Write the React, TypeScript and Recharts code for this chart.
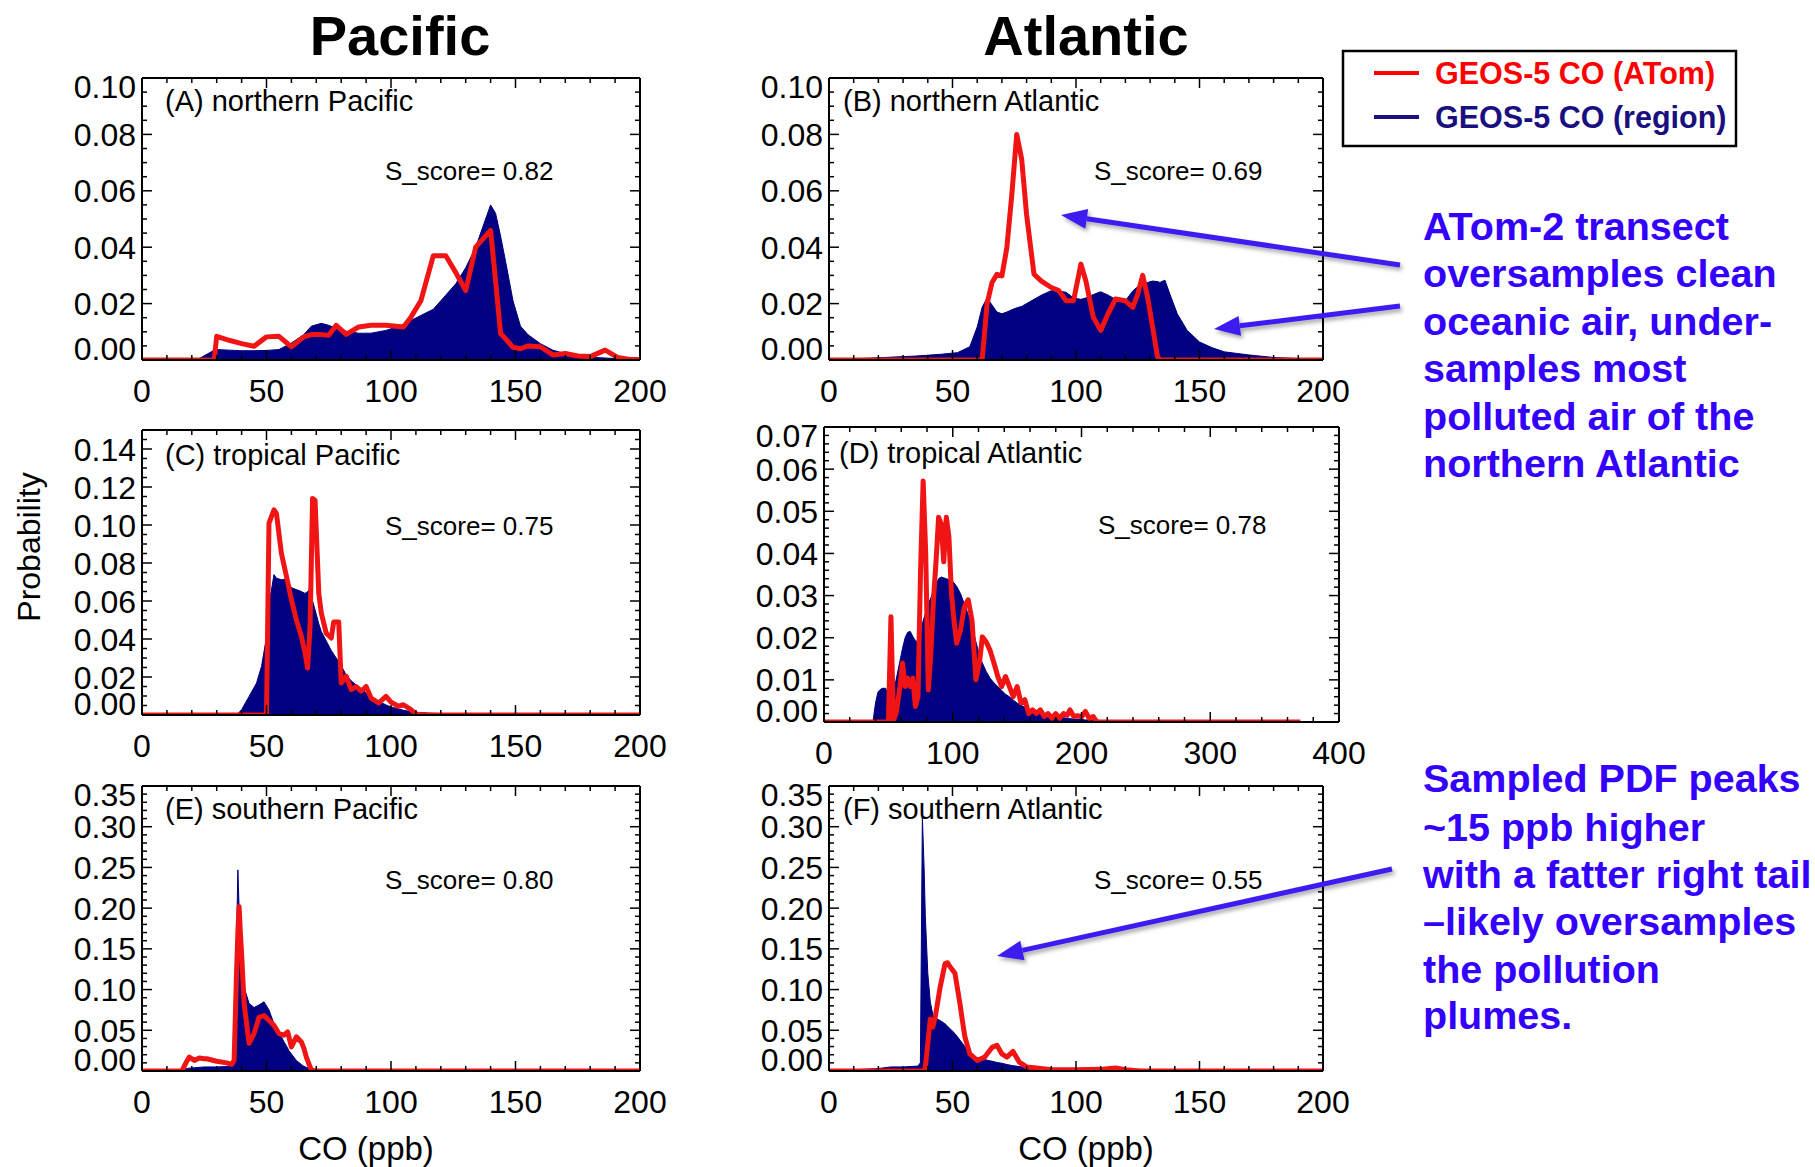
import React from 'react';
import { ComposedChart, Area, Line, XAxis, YAxis } from 'recharts';

const FONT = '"Liberation Sans", Arial, Helvetica, sans-serif';
const NAVY = '#000080';
const RED = '#f01414';
const BLUE = '#3300ff';
const ARROW = '#3c1ef2';

// tick labels
const X_TICKS_200 = [0, 50, 100, 150, 200];
const X_TICKS_400 = [0, 100, 200, 300, 400];
const Y_TICKS_010 = [0, 0.02, 0.04, 0.06, 0.08, 0.1];
const Y_TICKS_014 = [0, 0.02, 0.04, 0.06, 0.08, 0.1, 0.12, 0.14];
const Y_TICKS_007 = [0, 0.01, 0.02, 0.03, 0.04, 0.05, 0.06, 0.07];
const Y_TICKS_035 = [0, 0.05, 0.1, 0.15, 0.2, 0.25, 0.3, 0.35];

// (A) northern Pacific
const A_CO = [0, 20, 23, 28, 29, 30, 35, 40, 45, 50, 55, 60, 65, 68, 72, 75, 78, 82, 87, 92, 98, 105, 108, 112, 117, 122, 126, 130, 134, 138, 140, 142, 144, 146, 149, 152, 155, 160, 165, 170, 175, 180, 186, 191, 196, 200];
const A_REGION = [0, 0, 0.0005, 0.003, 0.0035, 0.0037, 0.0035, 0.0033, 0.0033, 0.0034, 0.0037, 0.006, 0.009, 0.012, 0.013, 0.0123, 0.0112, 0.0102, 0.0095, 0.0095, 0.0105, 0.0125, 0.014, 0.0158, 0.018, 0.023, 0.027, 0.0327, 0.04, 0.05, 0.055, 0.052, 0.044, 0.035, 0.021, 0.012, 0.009, 0.0058, 0.0035, 0.0022, 0.0016, 0.001, 0.0007, 0.0005, 0.0003, 0.0002];
const A_ATOM = [0, 0, 0, 0, 0, 0.0084, 0.007, 0.0058, 0.0049, 0.0082, 0.0084, 0.0047, 0.0082, 0.009, 0.009, 0.0088, 0.0123, 0.0091, 0.0117, 0.0123, 0.0123, 0.0117, 0.0152, 0.021, 0.037, 0.037, 0.031, 0.0246, 0.04, 0.044, 0.046, 0.028, 0.0094, 0.0075, 0.0045, 0.004, 0.005, 0.0047, 0.0018, 0.0023, 0.0014, 0.0012, 0.0035, 0.0009, 0.0002, 0.0002];

// (B) northern Atlantic
const B_CO = [0, 35, 45, 52, 57, 60, 62, 64, 66, 68, 70, 72, 74, 76, 78, 80, 83, 86, 90, 93, 96, 99, 102, 104, 107, 110, 113, 116, 120, 123, 125, 127, 129, 131, 133, 134, 136, 138, 141, 145, 150, 155, 160, 170, 180, 190, 200];
const B_REGION = [0, 0.0014, 0.002, 0.0026, 0.0047, 0.0117, 0.0187, 0.022, 0.0195, 0.017, 0.0164, 0.017, 0.0178, 0.0185, 0.019, 0.02, 0.0215, 0.023, 0.0246, 0.0245, 0.024, 0.022, 0.0215, 0.022, 0.0232, 0.0242, 0.023, 0.0215, 0.021, 0.0245, 0.026, 0.027, 0.0275, 0.028, 0.0278, 0.0275, 0.0283, 0.0234, 0.0164, 0.0105, 0.0064, 0.0044, 0.0029, 0.0018, 0.0009, 0.0005, 0.0002];
const B_ATOM = [0, 0, 0, 0, 0, 0, 0, 0.0199, 0.0275, 0.0304, 0.0298, 0.0398, 0.0585, 0.08, 0.0713, 0.0515, 0.0304, 0.028, 0.0257, 0.0246, 0.021, 0.021, 0.034, 0.028, 0.0152, 0.0105, 0.0164, 0.0216, 0.021, 0.0187, 0.0234, 0.03, 0.0222, 0.0117, 0.0012, 0, 0, 0, 0, 0, 0, 0, 0, 0, 0, 0, 0];

// (C) tropical Pacific
const C_CO = [0, 38, 40, 43, 46, 48, 50, 51, 53, 54, 56, 58, 60, 62, 64, 65.5, 66.5, 67.5, 68.5, 69.5, 71, 72, 74, 76, 77, 79, 80, 82, 84, 86, 88, 90, 92, 95, 98, 100, 103, 105, 108, 110, 113, 115, 120, 130, 140, 150, 200];
const C_REGION = [0, 0, 0.0028, 0.0098, 0.0168, 0.0256, 0.041, 0.058, 0.0739, 0.072, 0.0712, 0.0716, 0.067, 0.066, 0.065, 0.064, 0.065, 0.066, 0.06, 0.0554, 0.048, 0.044, 0.039, 0.034, 0.032, 0.028, 0.026, 0.021, 0.018, 0.0158, 0.014, 0.0116, 0.0098, 0.0072, 0.0053, 0.0042, 0.0032, 0.0025, 0.0018, 0.0014, 0.0012, 0.001, 0.0007, 0.0004, 0.0002, 0, 0];
const C_ATOM = [0, 0, 0, 0, 0, 0, 0, 0.101, 0.108, 0.106, 0.085, 0.073, 0.0607, 0.05, 0.0414, 0.0326, 0.0247, 0.0467, 0.114, 0.113, 0.064, 0.0537, 0.043, 0.0405, 0.049, 0.049, 0.0168, 0.0204, 0.0133, 0.015, 0.0125, 0.015, 0.0089, 0.0063, 0.0098, 0.0068, 0.0046, 0.0054, 0.0028, 0.0005, 0, 0, 0, 0, 0, 0, 0];

// (D) tropical Atlantic
const D_CO = [0, 38, 40, 42, 45, 48, 50, 52, 53, 54, 56, 59, 61, 63, 65, 67, 69, 71, 73, 75, 77, 79, 81, 83, 85, 87, 89, 91, 93, 95, 97, 99, 101, 103, 106, 109, 112, 115, 118, 121, 123, 126, 129, 132, 135, 138, 141, 144, 147, 150, 153, 156, 159, 162, 165, 168, 171, 174, 177, 180, 183, 186, 189, 191, 194, 197, 200, 203, 206, 209, 212, 220, 240, 260, 280, 370];
const D_REGION = [0, 0, 0.0045, 0.0072, 0.008, 0.008, 0.0053, 0.005, 0.006, 0.007, 0.01, 0.0145, 0.0175, 0.02, 0.0213, 0.0215, 0.0203, 0.0193, 0.019, 0.021, 0.024, 0.026, 0.028, 0.0295, 0.031, 0.0325, 0.034, 0.0344, 0.0342, 0.034, 0.0338, 0.0335, 0.033, 0.0322, 0.0305, 0.028, 0.0255, 0.0226, 0.019, 0.0155, 0.014, 0.012, 0.0104, 0.0093, 0.0084, 0.0075, 0.0066, 0.006, 0.0052, 0.0045, 0.004, 0.0035, 0.003, 0.0027, 0.0023, 0.002, 0.0017, 0.0015, 0.0013, 0.0012, 0.0011, 0.001, 0.0009, 0.0008, 0.0007, 0.0007, 0.0006, 0.0005, 0.0005, 0.0004, 0.0004, 0.0003, 0.0002, 0.0001, 0, 0];
const D_ATOM = [0, 0, 0, 0, 0, 0, 0, 0.025, 0.012, 0.0005, 0.002, 0.0084, 0.014, 0.0084, 0.0104, 0.0084, 0.0104, 0.0037, 0.006, 0.036, 0.0572, 0.04, 0.0076, 0.0163, 0.029, 0.038, 0.0486, 0.047, 0.038, 0.0486, 0.044, 0.0305, 0.024, 0.0187, 0.0218, 0.0273, 0.029, 0.024, 0.01, 0.0147, 0.0202, 0.019, 0.017, 0.014, 0.0108, 0.0084, 0.0108, 0.0084, 0.006, 0.0084, 0.0045, 0.0053, 0.002, 0.0029, 0.002, 0.0029, 0.0013, 0.002, 0.0009, 0.002, 0.0009, 0.002, 0.0016, 0.0029, 0.0013, 0.0015, 0.0012, 0.0025, 0.0009, 0.0013, 0, 0, 0, 0, 0, 0];

// (E) southern Pacific
const E_CO = [0, 15, 16, 18, 19, 21, 23, 25, 26, 30, 34, 35, 36, 37, 38, 38.5, 39, 39.5, 40, 41, 43, 45, 47, 49, 51, 53, 55, 56, 57, 58.5, 59, 60, 62, 64, 65, 66, 68, 70, 72, 80, 90, 200];
const E_REGION = [0, 0, 0.001, 0.003, 0.0035, 0.004, 0.0045, 0.005, 0.005, 0.005, 0.0055, 0.0057, 0.006, 0.007, 0.165, 0.247, 0.2, 0.165, 0.14, 0.103, 0.083, 0.078, 0.081, 0.085, 0.075, 0.058, 0.047, 0.042, 0.036, 0.028, 0.025, 0.021, 0.013, 0.008, 0.0057, 0.0045, 0.0025, 0.0015, 0.0008, 0.0002, 0, 0];
const E_ATOM = [0, 0, 0, 0.012, 0.017, 0.013, 0.016, 0.015, 0.015, 0.012, 0.01, 0.009, 0.008, 0.013, 0.124, 0.17, 0.202, 0.17, 0.144, 0.083, 0.034, 0.046, 0.066, 0.068, 0.062, 0.056, 0.046, 0.045, 0.044, 0.048, 0.042, 0.0295, 0.042, 0.0357, 0.028, 0.017, 0.001, 0, 0, 0, 0, 0];

// (F) southern Atlantic
const F_CO = [0, 20, 25, 30, 36, 37, 37.8, 38.5, 39, 40, 41, 42, 43, 45, 47, 48, 49, 51, 53, 54, 55, 57, 60, 63, 66, 68, 70, 72, 74.5, 77, 80, 84, 90, 100, 110, 116, 120, 126, 200];
const F_REGION = [0, 0.003, 0.005, 0.005, 0.006, 0.01, 0.312, 0.25, 0.19, 0.12, 0.085, 0.07, 0.065, 0.062, 0.058, 0.055, 0.052, 0.046, 0.038, 0.034, 0.03, 0.021, 0.016, 0.014, 0.012, 0.0105, 0.0095, 0.008, 0.0065, 0.0055, 0.004, 0.002, 0.001, 0.0004, 0.0002, 0.0002, 0.0001, 0, 0];
const F_ATOM = [0, 0, 0, 0, 0, 0, 0, 0, 0.005, 0.034, 0.064, 0.054, 0.066, 0.103, 0.132, 0.133, 0.128, 0.12, 0.083, 0.062, 0.042, 0.021, 0.013, 0.017, 0.029, 0.0316, 0.021, 0.017, 0.024, 0.011, 0.005, 0.0037, 0.0016, 0.0016, 0.002, 0.0037, 0.0016, 0, 0];

function steps(max: number, step: number) {
  const out: number[] = [];
  const n = Math.round(max / step);
  for (let i = 0; i <= n; i++) out.push(+(i * step).toFixed(4));
  return out;
}

const isMajor = (v: number, majors: number[]) => majors.some(m => Math.abs(m - v) < 1e-6);

const PANELS = [
  { id: 'A', label: '(A) northern Pacific', score: '0.82', co: A_CO, region: A_REGION, atom: A_ATOM, left: 142, top: 78, w: 498, h: 282, xMax: 200, xMajor: X_TICKS_200, xMinor: 10, yMax: 0.1, yMajor: Y_TICKS_010, yMinor: 0.005, lx: 23, ly: 33, sx: 243, sy: 102 },
  { id: 'B', label: '(B) northern Atlantic', score: '0.69', co: B_CO, region: B_REGION, atom: B_ATOM, left: 829, top: 78, w: 494, h: 282, xMax: 200, xMajor: X_TICKS_200, xMinor: 10, yMax: 0.1, yMajor: Y_TICKS_010, yMinor: 0.005, lx: 14, ly: 33, sx: 265, sy: 102 },
  { id: 'C', label: '(C) tropical Pacific', score: '0.75', co: C_CO, region: C_REGION, atom: C_ATOM, left: 142, top: 430, w: 498, h: 285, xMax: 200, xMajor: X_TICKS_200, xMinor: 10, yMax: 0.15, yMajor: Y_TICKS_014, yMinor: 0.005, lx: 23, ly: 35, sx: 243, sy: 105 },
  { id: 'D', label: '(D) tropical Atlantic', score: '0.78', co: D_CO, region: D_REGION, atom: D_ATOM, left: 824, top: 427, w: 515, h: 295, xMax: 400, xMajor: X_TICKS_400, xMinor: 20, yMax: 0.07, yMajor: Y_TICKS_007, yMinor: 0.002, lx: 15, ly: 36, sx: 274, sy: 107 },
  { id: 'E', label: '(E) southern Pacific', score: '0.80', co: E_CO, region: E_REGION, atom: E_ATOM, left: 142, top: 786, w: 498, h: 285, xMax: 200, xMajor: X_TICKS_200, xMinor: 10, yMax: 0.35, yMajor: Y_TICKS_035, yMinor: 0.01, lx: 23, ly: 33, sx: 243, sy: 103 },
  { id: 'F', label: '(F) southern Atlantic', score: '0.55', co: F_CO, region: F_REGION, atom: F_ATOM, left: 829, top: 786, w: 494, h: 285, xMax: 200, xMajor: X_TICKS_200, xMinor: 10, yMax: 0.35, yMajor: Y_TICKS_035, yMinor: 0.01, lx: 14, ly: 33, sx: 265, sy: 103 },
];

const LEFT_W = 110;
const TOP_M = 12;
const TOP_AX = 1; // thin top axis, frame only
const RIGHT_AX = 1; // thin right axis, frame only
const RIGHT_M = 40;
const BOTTOM_H = 60;
const MAJOR_LEN = 10;
const MINOR_LEN = 5;
const AXIS = { stroke: '#000', strokeWidth: 2 };

type P = (typeof PANELS)[number];

function Panel({ p }: { p: P }) {
  const rows = p.co.map((x, i) => ({ x, region: p.region[i], atom: p.atom[i] }));
  const xTicks = steps(p.xMax, p.xMinor);
  const yTicks = steps(p.yMax, p.yMinor);
  const width = LEFT_W + p.w + RIGHT_AX + RIGHT_M;
  const height = TOP_M + TOP_AX + p.h + BOTTOM_H;

  // eslint-disable-next-line @typescript-eslint/no-explicit-any
  const bottomTick = (t: any) => {
    const major = isMajor(t.payload.value, p.xMajor);
    return (
      <g>
        <line x1={t.x} y1={t.y} x2={t.x} y2={t.y - (major ? MAJOR_LEN : MINOR_LEN)} stroke="#000" strokeWidth={1.5} />
        {major && (
          <text x={t.x} y={t.y + 42} textAnchor="middle" fontSize={32} fontFamily={FONT} fill="#000">{t.payload.value}</text>
        )}
      </g>
    );
  };
  // eslint-disable-next-line @typescript-eslint/no-explicit-any
  const topTick = (t: any) => {
    const major = isMajor(t.payload.value, p.xMajor);
    return <line x1={t.x} y1={t.y} x2={t.x} y2={t.y + (major ? MAJOR_LEN : MINOR_LEN)} stroke="#000" strokeWidth={1.5} />;
  };
  // eslint-disable-next-line @typescript-eslint/no-explicit-any
  const leftTick = (t: any) => {
    const v = t.payload.value;
    const major = isMajor(v, p.yMajor);
    // IDL nudges the end labels inside the frame
    let dy = 0;
    if (Math.abs(v) < 1e-9) dy = -12;
    else if (Math.abs(v - p.yMax) < 1e-9) dy = 8;
    return (
      <g>
        <line x1={t.x} y1={t.y} x2={t.x + (major ? MAJOR_LEN : MINOR_LEN)} y2={t.y} stroke="#000" strokeWidth={1.5} />
        {major && (
          <text x={t.x - 6} y={t.y + dy + 11.5} textAnchor="end" fontSize={32} fontFamily={FONT} fill="#000">{v.toFixed(2)}</text>
        )}
      </g>
    );
  };
  // eslint-disable-next-line @typescript-eslint/no-explicit-any
  const rightTick = (t: any) => {
    const major = isMajor(t.payload.value, p.yMajor);
    return <line x1={t.x} y1={t.y} x2={t.x - (major ? MAJOR_LEN : MINOR_LEN)} y2={t.y} stroke="#000" strokeWidth={1.5} />;
  };

  return (
    <div style={{ position: 'absolute', left: p.left - LEFT_W, top: p.top - TOP_M - TOP_AX, width, height }}>
      <ComposedChart width={width} height={height} data={rows} margin={{ top: TOP_M, right: RIGHT_M, bottom: 0, left: 0 }}>
        <XAxis dataKey="x" type="number" domain={[0, p.xMax]} ticks={xTicks} interval={0} tickSize={0} tickMargin={0}
          tick={bottomTick} tickLine={false} axisLine={AXIS} height={BOTTOM_H} allowDataOverflow />
        <XAxis xAxisId="top" dataKey="x" orientation="top" type="number" domain={[0, p.xMax]} ticks={xTicks} interval={0} tickSize={0}
          tickMargin={0} tick={topTick} tickLine={false} axisLine={AXIS} height={TOP_AX} allowDataOverflow />
        <YAxis type="number" domain={[0, p.yMax]} ticks={yTicks} interval={0} tickSize={0} tickMargin={0}
          tick={leftTick} tickLine={false} axisLine={AXIS} width={LEFT_W} allowDataOverflow />
        <YAxis yAxisId="right" orientation="right" type="number" domain={[0, p.yMax]} ticks={yTicks} interval={0} tickSize={0}
          tickMargin={0} tick={rightTick} tickLine={false} axisLine={AXIS} width={RIGHT_AX} allowDataOverflow />
        <Area type="linear" dataKey="region" fill={NAVY} fillOpacity={1} stroke={NAVY} strokeWidth={1} isAnimationActive={false} />
        <Line type="linear" dataKey="atom" stroke={RED} strokeWidth={5} dot={false} strokeLinejoin="round" isAnimationActive={false} />
        {/* invisible series that binds the frame axes */}
        <Line xAxisId="top" yAxisId="right" type="linear" dataKey="atom" stroke="transparent" strokeWidth={0} dot={false}
          activeDot={false} isAnimationActive={false} />
      </ComposedChart>
    </div>
  );
}

function arrowPath(x1: number, y1: number, x2: number, y2: number) {
  const a = Math.atan2(y2 - y1, x2 - x1);
  const L = 26;
  const W = 10;
  const bx = x2 - L * Math.cos(a);
  const by = y2 - L * Math.sin(a);
  const nx = -Math.sin(a);
  const ny = Math.cos(a);
  return {
    line: { x1, y1, x2: bx, y2: by },
    head: `${x2},${y2} ${bx + W * nx},${by + W * ny} ${bx - W * nx},${by - W * ny}`,
  };
}

const ARROWS = [
  [1400, 265, 1061, 215],
  [1400, 306, 1214, 329],
  [1392, 869, 997, 956],
];

const NOTE_TOP = ['ATom-2 transect', 'oversamples clean', 'oceanic air, under-', 'samples most', 'polluted air of the', 'northern Atlantic'];
const NOTE_TOP_Y = [240, 287, 335, 382, 430, 477];
const NOTE_BOTTOM = ['Sampled PDF peaks', '~15 ppb higher', 'with a fatter right tail', '\u2013likely oversamples', 'the pollution', 'plumes.'];
const NOTE_BOTTOM_Y = [792, 841, 888, 935, 983, 1029];

function Overlay() {
  return (
    <svg width={1815} height={1167} style={{ position: 'absolute', left: 0, top: 0, pointerEvents: 'none' }} fontFamily={FONT}>
      <defs>
        <filter id="shadow" x="-10%" y="-50%" width="120%" height="200%">
          <feDropShadow dx="2" dy="3" stdDeviation="2" floodColor="#000" floodOpacity="0.35" />
        </filter>
      </defs>
      <text x={400} y={55} textAnchor="middle" fontSize={56} fontWeight="bold">Pacific</text>
      <text x={1086} y={55} textAnchor="middle" fontSize={56} fontWeight="bold">Atlantic</text>

      {PANELS.map(p => (
        <g key={`lbl-${p.id}`}>
          <text x={p.left + p.lx} y={p.top + p.ly} fontSize={29}>{p.label}</text>
          <text x={p.left + p.sx} y={p.top + p.sy} fontSize={26}>S_score= {p.score}</text>
        </g>
      ))}

      <text x={29} y={547} fontSize={32} textAnchor="middle" dy="0.35em" transform="rotate(-90 29 547)">Probability</text>
      <text x={366} y={1160} fontSize={33} textAnchor="middle">CO (ppb)</text>
      <text x={1086} y={1160} fontSize={33} textAnchor="middle">CO (ppb)</text>

      <rect x={1343} y={51} width={393} height={95} fill="#fff" stroke="#000" strokeWidth={2.5} />
      <line x1={1374} y1={73} x2={1419} y2={73} stroke="#ff0000" strokeWidth={4} />
      <line x1={1374} y1={117} x2={1419} y2={117} stroke="#1a0f80" strokeWidth={4} />
      <text x={1435} y={84} fontSize={30.5} fontWeight="bold" fill="#ff0000">GEOS-5 CO (ATom)</text>
      <text x={1435} y={128} fontSize={30.5} fontWeight="bold" fill="#1a0f80">GEOS-5 CO (region)</text>

      {NOTE_TOP.map((t, i) => (
        <text key={`nt-${i}`} x={1423} y={NOTE_TOP_Y[i]} fontSize={39.5} fontWeight="bold" fill={BLUE}>{t}</text>
      ))}
      {NOTE_BOTTOM.map((t, i) => (
        <text key={`nb-${i}`} x={1423} y={NOTE_BOTTOM_Y[i]} fontSize={39.5} fontWeight="bold" fill={BLUE}>{t}</text>
      ))}

      {ARROWS.map((a, i) => {
        const ap = arrowPath(a[0], a[1], a[2], a[3]);
        return (
          <g key={`ar-${i}`} filter="url(#shadow)">
            <line {...ap.line} stroke={ARROW} strokeWidth={5} />
            <polygon points={ap.head} fill={ARROW} />
          </g>
        );
      })}
    </svg>
  );
}

export default function App() {
  return (
    <div style={{ position: 'absolute', left: 0, top: 0, width: 1815, height: 1167, background: '#fff', fontFamily: FONT }}>
      {PANELS.map(p => <Panel key={p.id} p={p} />)}
      <Overlay />
    </div>
  );
}
